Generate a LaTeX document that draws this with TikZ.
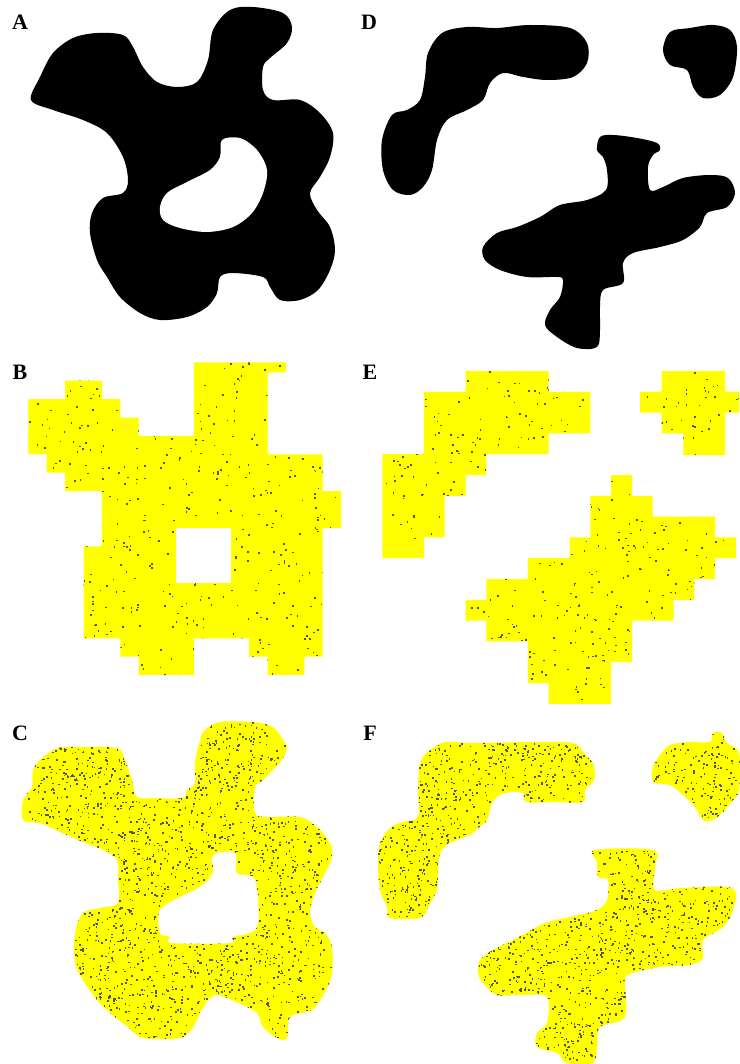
\documentclass[tikz,border=0pt]{standalone}
\usepackage{fontspec}
\setmainfont{Liberation Serif}
\definecolor{ylw}{RGB}{255,255,0}
\definecolor{dotc}{RGB}{85,85,45}
\newcommand\rdots[6]{\foreach \k in {1,...,#1}{\fill[dotc] ({#2+#4*rnd},{#3+#5*rnd}) rectangle ++(#6,#6);}}
\begin{document}
\begin{tikzpicture}[x=1pt,y=-1pt,
  lbl/.style={font=\fontsize{22}{22}\selectfont\bfseries, inner sep=0pt},
  blob/.style={smooth cycle, tension=0.55}]
\useasboundingbox (0,0) rectangle (739,1064);
\pgfmathsetseed{4242}

% ---------- labels ----------
\node[lbl] (la) at (20,22) {A};
\node[lbl] (ld) at (369,22) {D};
\node[lbl] (lb) at (20,372) {B};
\node[lbl] (le) at (370,372) {E};
\node[lbl] (lc) at (20,733) {C};
\node[lbl] (lf) at (370,733) {F};

% ---------- A ----------
\fill[black] plot[blob] coordinates {(31,100) (40,77) (53,53) (73,38) (97,33) (123,35) (133,47) (143,67) (157,82) (177,87) (197,82) (208,60) (213,30) (230,10) (253,7) (283,13) (292,27) (287,43) (270,58) (263,67) (263,90) (273,100) (300,100) (320,113) (333,133) (330,157) (320,177) (310,193) (317,210) (330,227) (335,250) (330,270) (318,290) (300,300) (280,300) (270,287) (263,277) (233,273) (220,277) (217,293) (207,307) (187,317) (160,320) (140,313) (120,297) (107,277) (97,260) (90,233) (92,213) (103,198) (123,193) (128,180) (123,157) (107,133) (83,120) (53,110)};
\fill[white] plot[blob] coordinates {(222,140) (240,138) (257,150) (267,170) (263,193) (252,213) (233,227) (207,232) (180,228) (163,220) (160,207) (167,193) (187,182) (210,170) (220,157)};

% ---------- D ----------
\fill[black] plot[blob] coordinates {(428,53) (442,33) (467,27) (497,28) (530,25) (570,28) (587,43) (587,63) (573,77) (547,80) (523,77) (503,73) (490,83) (483,100) (467,110) (447,120) (437,140) (432,170) (423,187) (410,195) (393,190) (383,170) (382,140) (392,115) (407,110) (420,100) (425,77)};
\fill[black] plot[blob] coordinates {(663,50) (670,32) (690,28) (713,25) (730,30) (737,47) (733,77) (720,95) (703,98) (693,87) (687,70) (670,65)};
\fill[black] plot[blob] coordinates {(600,137) (613,135) (637,138) (657,143) (660,150) (653,155) (648,167) (650,190) (663,187) (683,178) (710,175) (728,178) (735,193) (727,207) (707,213) (700,227) (683,240) (660,247) (633,253) (623,263) (623,283) (603,290) (600,307) (600,330) (597,347) (577,348) (557,337) (545,325) (550,310) (560,297) (563,280) (557,277) (527,277) (500,270) (485,260) (483,247) (497,233) (517,227) (540,217) (560,205) (587,200) (606,190) (607,170) (603,157) (597,150)};

% ---------- B ----------
\begin{scope}[shift={(28.3,362.3)}, x=18.4pt, y=-18.4pt, fill=ylw]
  \begin{scope}
    \clip[fill] (9,0) -- (14,0) -- (14,0.55) -- (13,0.55) -- (13,5) -- (16,5) -- (16,7) -- (17,7) -- (17,9) -- (16,9) -- (16,16) -- (15,16) -- (15,17) -- (13,17) -- (13,16) -- (12,16) -- (12,15) -- (9,15) -- (9,17) -- (6,17) -- (6,16) -- (5,16) -- (5,15) -- (3,15) -- (3,10) -- (4,10) -- (4,7) -- (2,7) -- (2,6) -- (1,6) -- (1,5) -- (0,5) -- (0,2) -- (2,2) -- (2,1) -- (4,1) -- (4,2) -- (5,2) -- (5,3) -- (6,3) -- (6,4) -- (9,4) -- cycle;
    \rdots{580}{0}{0}{17}{17}{0.087}
  \end{scope}
  \fill[white] (8,9) rectangle (11,12);
\end{scope}

% ---------- E ----------
\begin{scope}[shift={(382.3,371)}, x=20.8pt, y=-20.8pt, fill=ylw]
  \begin{scope}
    \clip[fill] (4,0) -- (8,0) -- (8,1) -- (10,1) -- (10,3) -- (8,3) -- (8,4) -- (5,4) -- (5,5) -- (4,5) -- (4,6) -- (3,6) -- (3,8) -- (2,8) -- (2,9) -- (0,9) -- (0,4) -- (2,4) -- (2,1) -- (4,1) -- cycle;
    \rdots{232}{0}{0}{10}{9}{0.077}
  \end{scope}
  \begin{scope}
    \clip[fill] (11,5) -- (12,5) -- (12,6) -- (13,6) -- (13,7) -- (16,7) -- (16,8) -- (17,8) -- (17,9) -- (16,9) -- (16,10) -- (15,10) -- (15,11) -- (14,11) -- (14,12) -- (12,12) -- (12,14) -- (11,14) -- (11,16) -- (8,16) -- (8,15) -- (7,15) -- (7,13) -- (5,13) -- (5,12) -- (4,12) -- (4,11) -- (5,11) -- (5,10) -- (7,10) -- (7,9) -- (9,9) -- (9,8) -- (10,8) -- (10,6) -- (11,6) -- cycle;
    \rdots{370}{4}{5}{13}{11}{0.077}
  \end{scope}
\end{scope}
\begin{scope}[fill=ylw]
  \clip[fill] (640,391.7) -- (661.7,391.7) -- (661.7,371) -- (725,371) -- (725,391.7) -- (739,391.7) -- (739,412.5) -- (725,412.5) -- (725,455) -- (683.3,455) -- (683.3,433.3) -- (661.7,433.3) -- (661.7,412.5) -- (640,412.5) -- cycle;
  \rdots{50}{640}{371}{99}{84}{1.6}
\end{scope}

% ---------- C ----------
\begin{scope}[fill=ylw]
  \clip[fill] plot[blob] coordinates {(23,820) (23,800) (32,787) (33,770) (42,758) (58,748) (83,747) (117,748) (125,760) (132,780) (137,797) (157,798) (183,798) (187,790) (195,783) (195,763) (200,740) (205,730) (220,722) (253,722) (273,727) (283,740) (287,747) (282,760) (263,780) (255,787) (255,813) (267,817) (300,817) (317,827) (330,843) (332,857) (323,877) (315,893) (310,913) (315,927) (325,933) (332,947) (332,973) (325,992) (312,1010) (290,1017) (287,1038) (277,1038) (263,1027) (257,1013) (238,1003) (215,995) (203,1008) (193,1027) (180,1038) (143,1038) (128,1027) (110,1013) (97,1000) (83,980) (75,963) (75,933) (83,913) (100,908) (118,903) (118,880) (117,860) (103,850) (83,842) (60,832) (40,823)};
  \rdots{2700}{23}{722}{310}{316}{1.6}
\end{scope}
\fill[white] plot[blob] coordinates {(213,855) (235,853) (237,873) (255,880) (257,927) (233,937) (230,943) (172,943) (170,937) (160,933) (160,910) (180,897) (200,887) (213,873)};

% ---------- F ----------
\begin{scope}[fill=ylw]
  \clip[fill] plot[blob] coordinates {(445,742) (470,743) (537,742) (573,743) (583,752) (592,762) (595,773) (593,782) (585,790) (583,802) (557,802) (527,802) (523,793) (513,792) (500,795) (492,803) (487,820) (478,828) (470,835) (450,843) (440,853) (438,873) (437,890) (428,907) (420,918) (390,918) (387,907) (380,890) (378,863) (380,843) (390,828) (402,822) (418,817) (418,790) (420,763) (428,752)};
  \rdots{1060}{378}{742}{217}{176}{1.6}
\end{scope}
\begin{scope}[fill=ylw]
  \clip[fill] plot[blob] coordinates {(670,745) (690,742) (710,742) (713,733) (722,733) (727,743) (739,753) (739,790) (733,800) (723,812) (713,820) (703,820) (695,807) (683,795) (670,785) (653,782) (653,767) (660,755)};
  \rdots{210}{653}{733}{86}{87}{1.6}
\end{scope}
\begin{scope}[fill=ylw]
  \clip[fill] plot[blob] coordinates {(595,850) (653,850) (655,867) (655,890) (683,888) (732,888) (733,910) (723,927) (703,940) (703,958) (690,965) (660,967) (633,973) (625,980) (625,1017) (600,1027) (597,1047) (593,1063) (567,1063) (557,1053) (537,1047) (537,1033) (547,1023) (547,997) (523,995) (497,995) (483,983) (478,973) (480,960) (493,950) (517,938) (545,923) (570,917) (597,910) (607,900) (608,880) (598,877) (597,862)};
  \rdots{1520}{478}{850}{255}{214}{1.6}
\end{scope}
\end{tikzpicture}
\end{document}
